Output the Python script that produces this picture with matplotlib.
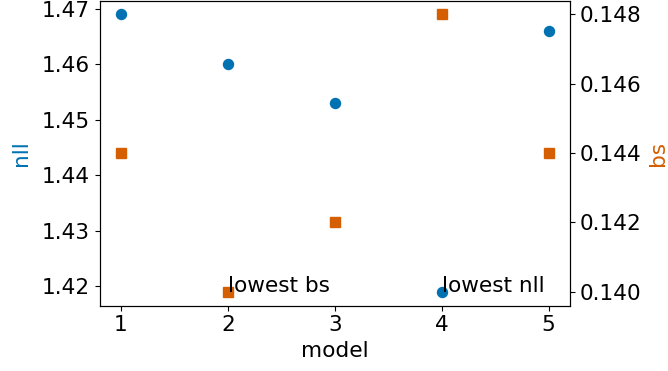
import matplotlib
matplotlib.use('Agg')
import matplotlib.pyplot as plt

models = [1, 2, 3, 4, 5]
nll = [1.469, 1.460, 1.453, 1.419, 1.466]
bs = [0.144, 0.140, 0.142, 0.148, 0.144]

blue = '#0072B2'
orange = '#D55E00'
fs = 15.6

fig = plt.figure(figsize=(6.68, 3.71), dpi=100)
ax1 = fig.add_axes([99.5 / 668, 1 - 305.5 / 371, 470.5 / 668, 305.0 / 371])
ax2 = ax1.twinx()

ax1.plot(models, nll, 'o', color=blue, markersize=7.2)
ax2.plot(models, bs, 's', color=orange, markersize=6.6)

ax1.set_xlabel('model', fontsize=fs)
ax1.set_ylabel('nll', color=blue, fontsize=fs, labelpad=8)
ax2.set_ylabel('bs', color=orange, fontsize=fs, labelpad=5)
ax1.set_xticks(models)
ax1.tick_params(labelsize=fs)
ax2.tick_params(labelsize=fs)
ax2.yaxis.set_major_formatter(matplotlib.ticker.FormatStrFormatter('%.3f'))

ax1.text(models[nll.index(min(nll))], min(nll), 'lowest nll', fontsize=fs)
ax2.text(models[bs.index(min(bs))], min(bs), 'lowest bs', fontsize=fs)

fig.savefig('out.png', dpi=100)
